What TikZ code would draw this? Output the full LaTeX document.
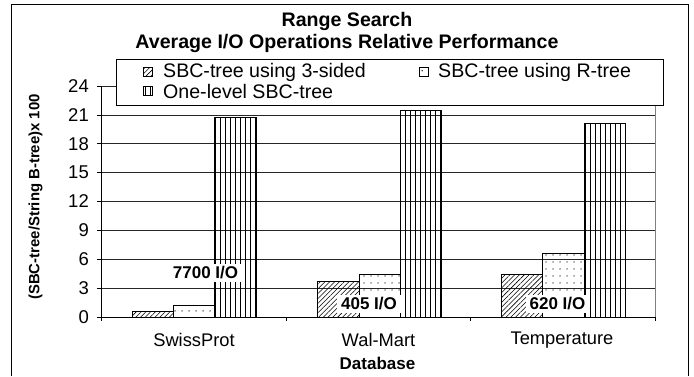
\documentclass[tikz,border=0pt]{standalone}
\usepackage{fontspec}
\setmainfont{Liberation Sans}
\usetikzlibrary{patterns.meta}
\tikzstyle{hatchbar} = [draw=black, line width=0.6pt, pattern={Lines[angle=45,distance=3.4pt,line width=0.55pt]}]
\tikzstyle{dotbar} = [draw=black, line width=0.6pt, pattern={Dots[distance=6.5pt,radius=0.7pt]}]
\tikzstyle{stripebar} = [draw=black, line width=0.9pt, pattern={Lines[angle=90,distance=5pt,line width=0.8pt]}]
\tikzstyle{gridline} = [black!85, line width=0.6pt]
\tikzstyle{ticklabel} = [anchor=east, inner sep=0pt, font=\fontsize{18.5}{20}\selectfont]
\tikzstyle{catname} = [inner sep=0pt, font=\fontsize{18.3}{20}\selectfont]
\tikzstyle{iolabel} = [fill=white, inner xsep=4pt, inner ysep=3pt, font=\bfseries\fontsize{17}{20}\selectfont]
\tikzstyle{legendtext} = [anchor=west, inner sep=0pt, font=\fontsize{19.6}{20}\selectfont]
\tikzstyle{swatch} = [minimum size=9pt, inner sep=0pt]
\tikzstyle{titletext} = [inner sep=0pt, font=\bfseries\fontsize{19.6}{22}\selectfont]

\begin{document}
\begin{tikzpicture}[x=1pt, y=-1pt]
        \useasboundingbox (0,0) rectangle (694,376);
        % Frame
        \draw [line width=0.9pt] (11,376) -- (11,4) -- (688,4) -- (688,376);

        % Grid
        \draw [gridline] (101,288.1) -- (655,288.1);
        \draw [gridline] (101,259.25) -- (655,259.25);
        \draw [gridline] (101,230.4) -- (655,230.4);
        \draw [gridline] (101,201.5) -- (655,201.5);
        \draw [gridline] (101,172.6) -- (655,172.6);
        \draw [gridline] (101,143.75) -- (655,143.75);
        \draw [gridline] (101,114.9) -- (655,114.9);
        \draw [gridline] (101,86) -- (655,86);
        \draw [gray, line width=0.6pt] (655,86) -- (655,317);

        % Bars
        \draw [hatchbar] (132,317) rectangle (173.3,311.2);
        \draw [dotbar] (173.3,317) rectangle (214.7,305);
        \draw [stripebar] (214.7,317) rectangle (256,117.3);
        \draw [hatchbar] (317.7,317) rectangle (359,281.7);
        \draw [dotbar] (359,317) rectangle (400.3,274.3);
        \draw [stripebar] (400.3,317) rectangle (441.7,110);
        \draw [hatchbar] (501.3,317) rectangle (542.7,274.3);
        \draw [dotbar] (542.7,317) rectangle (584,253.3);
        \draw [stripebar] (584,317) rectangle (625.3,123.3);

        % Axes
        \draw [line width=0.7pt] (101,86) -- (101,317) -- (655,317);
        \draw [line width=0.7pt] (97,86) -- (101,86);
        \draw [line width=0.7pt] (97,114.9) -- (101,114.9);
        \draw [line width=0.7pt] (97,143.75) -- (101,143.75);
        \draw [line width=0.7pt] (97,172.6) -- (101,172.6);
        \draw [line width=0.7pt] (97,201.5) -- (101,201.5);
        \draw [line width=0.7pt] (97,230.4) -- (101,230.4);
        \draw [line width=0.7pt] (97,259.25) -- (101,259.25);
        \draw [line width=0.7pt] (97,288.1) -- (101,288.1);
        \draw [line width=0.7pt] (97,317) -- (101,317);
        \draw [line width=0.7pt] (101,317) -- (101,321);
        \draw [line width=0.7pt] (286.7,317) -- (286.7,321);
        \draw [line width=0.7pt] (470.3,317) -- (470.3,321);
        \draw [line width=0.7pt] (655,317) -- (655,321);

        % Tick labels
        \node (t0) at (89,317) [ticklabel] {0};
        \node (t3) at (89,288.1) [ticklabel] {3};
        \node (t6) at (89,259.25) [ticklabel] {6};
        \node (t9) at (89,230.4) [ticklabel] {9};
        \node (t12) at (89,201.5) [ticklabel] {12};
        \node (t15) at (89,172.6) [ticklabel] {15};
        \node (t18) at (89,143.75) [ticklabel] {18};
        \node (t21) at (89,114.9) [ticklabel] {21};
        \node (t24) at (89,86) [ticklabel] {24};

        % Categories
        \node (swissprot) at (194,340) [catname] {SwissProt};
        \node (walmart) at (378.5,340) [catname] {Wal-Mart};
        \node (temperature) at (562,340) [catname] {Temperature};
        \node (xtitle) at (377.5,363) [inner sep=0pt, font=\bfseries\fontsize{17}{20}\selectfont] {Database};
        \node (ytitle) at (35.5,197) [rotate=90, inner sep=0pt, font=\bfseries\fontsize{14.9}{18}\selectfont] {(SBC-tree/String B-tree)x 100};

        % I/O labels
        \node (io_swissprot) at (205.5,273) [iolabel] {7700 I/O};
        \node (io_walmart) at (369,304) [iolabel] {405 I/O};
        \node (io_temperature) at (557.5,304) [iolabel] {620 I/O};

        % Legend
        \draw [fill=white, line width=0.7pt] (116,59) rectangle (663,105);
        \node (key_threesided) at (148,72) [swatch, hatchbar] {};
        \node (txt_threesided) at (163,72) [legendtext] {SBC-tree using 3-sided};
        \node (key_rtree) at (423.5,72) [swatch, dotbar] {};
        \node (txt_rtree) at (438,72) [legendtext] {SBC-tree using R-tree};
        \node (key_onelevel) at (148,91) [swatch, stripebar] {};
        \node (txt_onelevel) at (163,91) [legendtext] {One-level SBC-tree};

        % Title
        \node (title) at (347,21) [titletext] {Range Search};
        \node (subtitle) at (347,43) [titletext] {Average I/O Operations Relative Performance};
    \end{tikzpicture}
\end{document}
